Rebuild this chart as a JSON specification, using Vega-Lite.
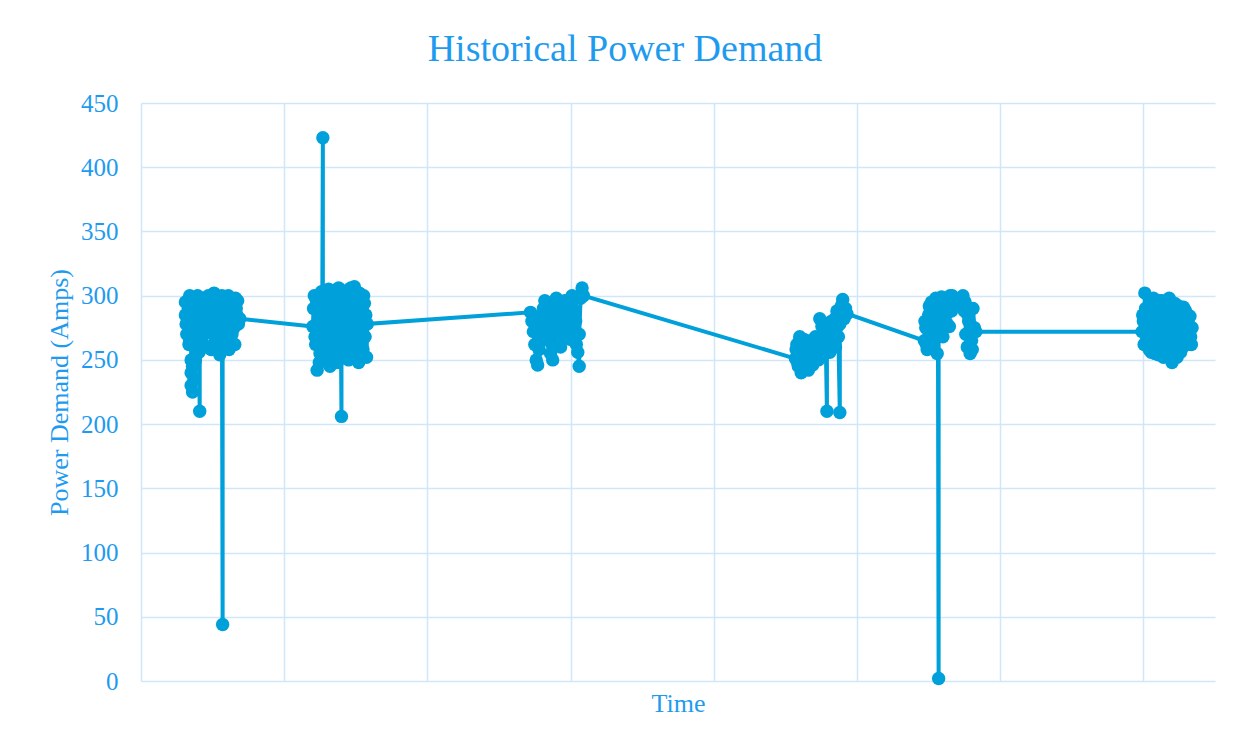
{
  "$schema": "https://vega.github.io/schema/vega-lite/v6.json",
  "width": 1074,
  "height": 578,
  "autosize": "none",
  "padding": {"left": 141, "top": 103, "right": 29, "bottom": 66},
  "background": "white",
  "title": {
    "text": "Historical Power Demand",
    "font": "Liberation Serif",
    "fontSize": 38,
    "fontWeight": "normal",
    "color": "#1E9BEF",
    "anchor": "middle",
    "dx": -53,
    "dy": 49,
    "baseline": "alphabetic",
    "offset": 41
  },
  "data": {
    "values": [
      {"time": 31, "amps": 285}, {"time": 31, "amps": 295}, {"time": 31.5, "amps": 278}, {"time": 32, "amps": 270}, {"time": 32.5, "amps": 296}, {"time": 33, "amps": 290}, {"time": 33, "amps": 280}, {"time": 33.5, "amps": 262}, {"time": 34, "amps": 300}, {"time": 34, "amps": 265}, {"time": 34.5, "amps": 288}, {"time": 35, "amps": 275}, {"time": 35, "amps": 250}, {"time": 35, "amps": 240}, {"time": 35, "amps": 230}, {"time": 36, "amps": 225}, {"time": 36, "amps": 245}, {"time": 36.5, "amps": 292}, {"time": 37, "amps": 235}, {"time": 37.5, "amps": 272}, {"time": 38, "amps": 250}, {"time": 38, "amps": 285}, {"time": 38.5, "amps": 266}, {"time": 39, "amps": 295}, {"time": 39.5, "amps": 300}, {"time": 40, "amps": 278}, {"time": 40.5, "amps": 256}, {"time": 41, "amps": 210}, {"time": 41, "amps": 262}, {"time": 42, "amps": 288}, {"time": 42.5, "amps": 274}, {"time": 43, "amps": 298}, {"time": 43.5, "amps": 284}, {"time": 44, "amps": 270}, {"time": 44.5, "amps": 296}, {"time": 45, "amps": 282}, {"time": 45.5, "amps": 260}, {"time": 46, "amps": 292}, {"time": 46.5, "amps": 278}, {"time": 47, "amps": 300}, {"time": 47.5, "amps": 290}, {"time": 48, "amps": 276}, {"time": 48.5, "amps": 298}, {"time": 49, "amps": 258}, {"time": 49.5, "amps": 272}, {"time": 50, "amps": 290}, {"time": 50.5, "amps": 262}, {"time": 51, "amps": 302}, {"time": 51.5, "amps": 286}, {"time": 52, "amps": 268}, {"time": 52.5, "amps": 296}, {"time": 53, "amps": 285}, {"time": 53.5, "amps": 258}, {"time": 54, "amps": 295}, {"time": 54.5, "amps": 276}, {"time": 55, "amps": 254}, {"time": 55.5, "amps": 290}, {"time": 56, "amps": 280}, {"time": 56.5, "amps": 300}, {"time": 57, "amps": 44}, {"time": 57, "amps": 262}, {"time": 57.5, "amps": 284}, {"time": 58, "amps": 298}, {"time": 58.5, "amps": 260}, {"time": 59, "amps": 272}, {"time": 59.5, "amps": 294}, {"time": 60, "amps": 288}, {"time": 60.5, "amps": 276}, {"time": 61, "amps": 300}, {"time": 61.5, "amps": 258}, {"time": 62, "amps": 265}, {"time": 62.5, "amps": 292}, {"time": 63, "amps": 283}, {"time": 63.5, "amps": 270}, {"time": 64, "amps": 296}, {"time": 64.5, "amps": 286}, {"time": 65, "amps": 275}, {"time": 65.5, "amps": 262}, {"time": 66, "amps": 298}, {"time": 66.5, "amps": 290}, {"time": 67, "amps": 285}, {"time": 67.5, "amps": 296}, {"time": 68, "amps": 278}, {"time": 69, "amps": 282},

      {"time": 120, "amps": 276}, {"time": 120.5, "amps": 290}, {"time": 121, "amps": 300}, {"time": 121.5, "amps": 268}, {"time": 122, "amps": 262}, {"time": 122.5, "amps": 296}, {"time": 123, "amps": 242}, {"time": 123.5, "amps": 278}, {"time": 124, "amps": 290}, {"time": 124.5, "amps": 248}, {"time": 125, "amps": 255}, {"time": 125.5, "amps": 285}, {"time": 126, "amps": 303}, {"time": 126.5, "amps": 266}, {"time": 127, "amps": 423}, {"time": 127, "amps": 280}, {"time": 128, "amps": 250}, {"time": 128.5, "amps": 300}, {"time": 129, "amps": 295}, {"time": 129.5, "amps": 258}, {"time": 130, "amps": 270}, {"time": 130.5, "amps": 288}, {"time": 131, "amps": 305}, {"time": 131.5, "amps": 272}, {"time": 132, "amps": 245}, {"time": 132.5, "amps": 296}, {"time": 133, "amps": 285}, {"time": 133.5, "amps": 254}, {"time": 134, "amps": 300}, {"time": 134.5, "amps": 280}, {"time": 135, "amps": 260}, {"time": 135.5, "amps": 304}, {"time": 136, "amps": 292}, {"time": 136.5, "amps": 266}, {"time": 137, "amps": 248}, {"time": 137.5, "amps": 290}, {"time": 138, "amps": 306}, {"time": 138.5, "amps": 256}, {"time": 139, "amps": 275}, {"time": 139.5, "amps": 284}, {"time": 140, "amps": 206}, {"time": 140, "amps": 288}, {"time": 141, "amps": 258}, {"time": 141.5, "amps": 300}, {"time": 142, "amps": 298}, {"time": 142.5, "amps": 274}, {"time": 143, "amps": 265}, {"time": 143.5, "amps": 252}, {"time": 144, "amps": 304}, {"time": 144.5, "amps": 288}, {"time": 145, "amps": 250}, {"time": 145.5, "amps": 268}, {"time": 146, "amps": 282}, {"time": 146.5, "amps": 306}, {"time": 147, "amps": 296}, {"time": 147.5, "amps": 256}, {"time": 148, "amps": 262}, {"time": 148.5, "amps": 284}, {"time": 149, "amps": 307}, {"time": 149.5, "amps": 294}, {"time": 150, "amps": 270}, {"time": 150.5, "amps": 252}, {"time": 151, "amps": 290}, {"time": 151.5, "amps": 276}, {"time": 152, "amps": 248}, {"time": 152.5, "amps": 302}, {"time": 153, "amps": 300}, {"time": 153.5, "amps": 264}, {"time": 154, "amps": 278}, {"time": 154.5, "amps": 290}, {"time": 155, "amps": 258}, {"time": 155.5, "amps": 300}, {"time": 156, "amps": 294}, {"time": 156.5, "amps": 268}, {"time": 157, "amps": 285}, {"time": 157.5, "amps": 252}, {"time": 158, "amps": 278},

      {"time": 272, "amps": 287}, {"time": 273, "amps": 280}, {"time": 274, "amps": 272}, {"time": 275, "amps": 262}, {"time": 276, "amps": 250}, {"time": 277, "amps": 246}, {"time": 277.5, "amps": 262}, {"time": 278, "amps": 258}, {"time": 279, "amps": 268}, {"time": 279.5, "amps": 284}, {"time": 280, "amps": 278}, {"time": 281, "amps": 290}, {"time": 281.5, "amps": 276}, {"time": 282, "amps": 296}, {"time": 283, "amps": 285}, {"time": 283.5, "amps": 294}, {"time": 284, "amps": 275}, {"time": 285, "amps": 265}, {"time": 285.5, "amps": 280}, {"time": 286, "amps": 255}, {"time": 287, "amps": 262}, {"time": 287.5, "amps": 250}, {"time": 288, "amps": 278}, {"time": 289, "amps": 292}, {"time": 289.5, "amps": 270}, {"time": 290, "amps": 298}, {"time": 291, "amps": 288}, {"time": 291.5, "amps": 296}, {"time": 292, "amps": 270}, {"time": 293, "amps": 260}, {"time": 293.5, "amps": 284}, {"time": 294, "amps": 275}, {"time": 295, "amps": 290}, {"time": 296, "amps": 296}, {"time": 297, "amps": 283}, {"time": 297.5, "amps": 292}, {"time": 298, "amps": 268}, {"time": 299, "amps": 280}, {"time": 299.5, "amps": 266}, {"time": 300, "amps": 293}, {"time": 301, "amps": 300}, {"time": 301.5, "amps": 290}, {"time": 302, "amps": 286}, {"time": 303, "amps": 272}, {"time": 303.5, "amps": 280}, {"time": 304, "amps": 262}, {"time": 305, "amps": 256}, {"time": 306, "amps": 245}, {"time": 306, "amps": 270}, {"time": 307, "amps": 298}, {"time": 308, "amps": 306}, {"time": 309, "amps": 300},

      {"time": 457, "amps": 251}, {"time": 457.5, "amps": 258}, {"time": 458, "amps": 262}, {"time": 458.5, "amps": 248}, {"time": 459, "amps": 245}, {"time": 459.5, "amps": 264}, {"time": 460, "amps": 268}, {"time": 461, "amps": 240}, {"time": 461.5, "amps": 258}, {"time": 462, "amps": 255}, {"time": 462.5, "amps": 246}, {"time": 463, "amps": 266}, {"time": 463.5, "amps": 256}, {"time": 464, "amps": 248}, {"time": 465, "amps": 258}, {"time": 465.5, "amps": 264}, {"time": 466, "amps": 242}, {"time": 467, "amps": 263}, {"time": 467.5, "amps": 250}, {"time": 468, "amps": 252}, {"time": 469, "amps": 246}, {"time": 469.5, "amps": 266}, {"time": 470, "amps": 260}, {"time": 471, "amps": 268}, {"time": 471.5, "amps": 250}, {"time": 472, "amps": 255}, {"time": 473, "amps": 250}, {"time": 473.5, "amps": 262}, {"time": 474, "amps": 282}, {"time": 475, "amps": 262}, {"time": 475.5, "amps": 276}, {"time": 476, "amps": 270}, {"time": 477, "amps": 258}, {"time": 477.5, "amps": 266}, {"time": 478, "amps": 276}, {"time": 479, "amps": 210}, {"time": 479, "amps": 265}, {"time": 480, "amps": 272}, {"time": 480.5, "amps": 260}, {"time": 481, "amps": 256}, {"time": 482, "amps": 280}, {"time": 482.5, "amps": 270}, {"time": 483, "amps": 266}, {"time": 484, "amps": 274}, {"time": 484.5, "amps": 282}, {"time": 485, "amps": 260}, {"time": 486, "amps": 288}, {"time": 486.5, "amps": 276}, {"time": 487, "amps": 268}, {"time": 488, "amps": 209}, {"time": 488, "amps": 278}, {"time": 489, "amps": 292}, {"time": 489.5, "amps": 284}, {"time": 490, "amps": 297}, {"time": 491, "amps": 282}, {"time": 492, "amps": 290}, {"time": 493, "amps": 286},

      {"time": 547, "amps": 265}, {"time": 547.5, "amps": 280}, {"time": 548, "amps": 275}, {"time": 548.5, "amps": 262}, {"time": 549, "amps": 258}, {"time": 550, "amps": 285}, {"time": 550.5, "amps": 292}, {"time": 551, "amps": 270}, {"time": 552, "amps": 295}, {"time": 552.5, "amps": 278}, {"time": 553, "amps": 262}, {"time": 554, "amps": 280}, {"time": 554.5, "amps": 268}, {"time": 555, "amps": 298}, {"time": 556, "amps": 255}, {"time": 556.5, "amps": 290}, {"time": 557, "amps": 2}, {"time": 557, "amps": 272}, {"time": 558, "amps": 290}, {"time": 558.5, "amps": 280}, {"time": 559, "amps": 299}, {"time": 560, "amps": 268}, {"time": 560.5, "amps": 296}, {"time": 561, "amps": 285}, {"time": 562, "amps": 297}, {"time": 562.5, "amps": 286}, {"time": 563, "amps": 278}, {"time": 564, "amps": 292}, {"time": 564.5, "amps": 276}, {"time": 565, "amps": 300}, {"time": 566, "amps": 288}, {"time": 566.5, "amps": 300}, {"time": 567, "amps": 295}, {"time": 568, "amps": 296}, {"time": 572, "amps": 292}, {"time": 574, "amps": 300}, {"time": 575, "amps": 288}, {"time": 575.5, "amps": 295}, {"time": 576, "amps": 270}, {"time": 577, "amps": 260}, {"time": 577.5, "amps": 285}, {"time": 578, "amps": 280}, {"time": 579, "amps": 255}, {"time": 579.5, "amps": 268}, {"time": 580, "amps": 265}, {"time": 580.5, "amps": 258}, {"time": 581, "amps": 290}, {"time": 582, "amps": 275}, {"time": 583, "amps": 272},

      {"time": 699, "amps": 272}, {"time": 699.5, "amps": 285}, {"time": 700, "amps": 280}, {"time": 700.5, "amps": 262}, {"time": 701, "amps": 302}, {"time": 701.5, "amps": 290}, {"time": 702, "amps": 265}, {"time": 702.5, "amps": 276}, {"time": 703, "amps": 290}, {"time": 703.5, "amps": 266}, {"time": 704, "amps": 258}, {"time": 704.5, "amps": 294}, {"time": 705, "amps": 285}, {"time": 705.5, "amps": 256}, {"time": 706, "amps": 270}, {"time": 706.5, "amps": 282}, {"time": 707, "amps": 298}, {"time": 707.5, "amps": 262}, {"time": 708, "amps": 255}, {"time": 708.5, "amps": 290}, {"time": 709, "amps": 278}, {"time": 709.5, "amps": 268}, {"time": 710, "amps": 292}, {"time": 710.5, "amps": 254}, {"time": 711, "amps": 262}, {"time": 711.5, "amps": 296}, {"time": 712, "amps": 283}, {"time": 712.5, "amps": 270}, {"time": 713, "amps": 296}, {"time": 713.5, "amps": 260}, {"time": 714, "amps": 252}, {"time": 714.5, "amps": 286}, {"time": 715, "amps": 275}, {"time": 715.5, "amps": 264}, {"time": 716, "amps": 288}, {"time": 716.5, "amps": 276}, {"time": 717, "amps": 260}, {"time": 717.5, "amps": 292}, {"time": 718, "amps": 298}, {"time": 718.5, "amps": 280}, {"time": 719, "amps": 268}, {"time": 719.5, "amps": 258}, {"time": 720, "amps": 248}, {"time": 720.5, "amps": 274}, {"time": 721, "amps": 282}, {"time": 721.5, "amps": 262}, {"time": 722, "amps": 294}, {"time": 722.5, "amps": 284}, {"time": 723, "amps": 263}, {"time": 723.5, "amps": 252}, {"time": 724, "amps": 276}, {"time": 724.5, "amps": 292}, {"time": 725, "amps": 287}, {"time": 725.5, "amps": 270}, {"time": 726, "amps": 256}, {"time": 726.5, "amps": 282}, {"time": 727, "amps": 270}, {"time": 727.5, "amps": 260}, {"time": 728, "amps": 291}, {"time": 728.5, "amps": 276}, {"time": 729, "amps": 265}, {"time": 729.5, "amps": 288}, {"time": 730, "amps": 280}, {"time": 730.5, "amps": 262}, {"time": 731, "amps": 285}, {"time": 731.5, "amps": 278}, {"time": 732, "amps": 272}, {"time": 732.5, "amps": 284}, {"time": 733, "amps": 268}, {"time": 733.5, "amps": 262}, {"time": 734, "amps": 275}
    ]
  },
  "encoding": {
    "x": {
      "field": "time",
      "type": "quantitative",
      "scale": {"domain": [0, 750], "nice": false, "zero": false},
      "axis": {
        "title": "Time",
        "values": [0, 100, 200, 300, 400, 500, 600, 700],
        "labels": false,
        "ticks": false,
        "domain": false,
        "grid": true,
        "gridColor": "#CFE7FA",
        "gridWidth": 1.5,
        "titleFont": "Liberation Serif",
        "titleFontSize": 26,
        "titleFontWeight": "normal",
        "titleColor": "#1E9BEF",
        "titleBaseline": "alphabetic",
        "titleY": 30
      }
    },
    "y": {
      "field": "amps",
      "type": "quantitative",
      "scale": {"domain": [0, 450], "nice": false},
      "axis": {
        "title": "Power Demand (Amps)",
        "values": [0, 50, 100, 150, 200, 250, 300, 350, 400, 450],
        "ticks": false,
        "domain": false,
        "grid": true,
        "gridColor": "#CFE7FA",
        "gridWidth": 1.5,
        "labelFont": "Liberation Serif",
        "labelFontSize": 25,
        "labelColor": "#1E9BEF",
        "labelPadding": 23,
        "titleFont": "Liberation Serif",
        "titleFontSize": 26,
        "titleFontWeight": "normal",
        "titleColor": "#1E9BEF",
        "titleAngle": -90,
        "titleBaseline": "alphabetic",
        "titleAlign": "center",
        "titleX": -74,
        "titleY": 289
      }
    }
  },
  "layer": [
    {"mark": {"type": "line", "color": "#00A0DB", "strokeWidth": 4}},
    {"mark": {"type": "point", "filled": true, "color": "#00A0DB", "opacity": 1, "size": 180}}
  ],
  "config": {"view": {"stroke": null}}
}
